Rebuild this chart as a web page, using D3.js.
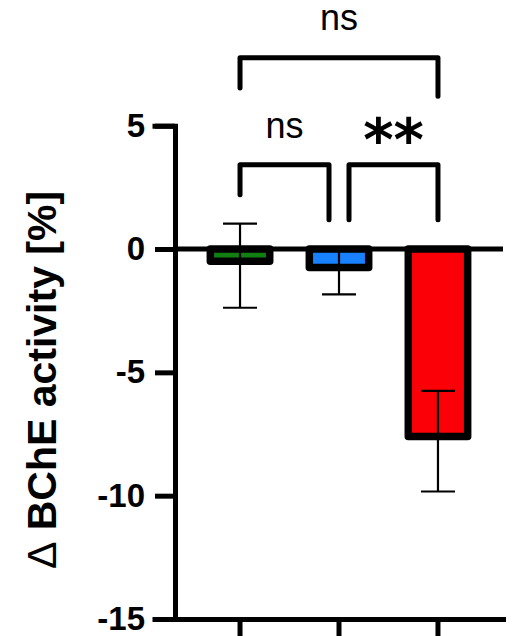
<!DOCTYPE html>
<html>
<head>
<meta charset="utf-8">
<script src="https://cdn.jsdelivr.net/npm/d3@7"></script>
<style>
  body { margin: 0; background: #fff; }
  svg { display: block; }
</style>
</head>
<body>
<div id="chart"></div>
<script>
// group data
var groups = ["A", "B", "C"];
var means = [-0.5, -0.75, -7.6];
var errHigh = [1.03, 0, -5.75];
var errLow = [-2.38, -1.84, -9.83];
var barColors = ["#127f12", "#1781ff", "#fb0007"];

// y axis ticks
var yTicks = [5, 0, -5, -10, -15];

// significance comparisons
var compFrom = [0, 0, 1];
var compTo = [2, 1, 2];
var compLabel = ["ns", "ns", "**"];

var width = 513, height = 636;
var font = "'Liberation Sans', Arial, sans-serif";

var svg = d3.select("#chart").append("svg")
    .attr("width", width)
    .attr("height", height);

// set the ranges
var x = d3.scaleBand()
    .domain(groups)
    .range([175, 503])
    .paddingInner(0.4)
    .paddingOuter(0.357);

var y = d3.scaleLinear()
    .domain([-15, 5])
    .range([619, 125.7]);

var cx = function (i) { return x(groups[i]) + x.bandwidth() / 2; };

// bars
svg.selectAll(".bar")
    .data(means)
    .enter().append("rect")
    .attr("class", "bar")
    .attr("x", function (d, i) { return x(groups[i]); })
    .attr("width", x.bandwidth())
    .attr("y", y(0))
    .attr("height", function (d) { return y(d) - y(0); })
    .style("fill", function (d, i) { return barColors[i]; })
    .style("stroke", "#000")
    .style("stroke-width", 7.5)
    .style("stroke-linejoin", "round");

// error bars
var eb = svg.selectAll(".err")
    .data(means)
    .enter().append("g")
    .attr("class", "err")
    .style("stroke", "#000")
    .style("stroke-width", 2.2);

eb.append("line")
    .attr("x1", function (d, i) { return cx(i); })
    .attr("x2", function (d, i) { return cx(i); })
    .attr("y1", function (d, i) { return y(errHigh[i]); })
    .attr("y2", function (d, i) { return y(errLow[i]); });

eb.append("line")
    .attr("x1", function (d, i) { return cx(i) - 17; })
    .attr("x2", function (d, i) { return cx(i) + 17; })
    .attr("y1", function (d, i) { return y(errHigh[i]); })
    .attr("y2", function (d, i) { return y(errHigh[i]); });

eb.append("line")
    .attr("x1", function (d, i) { return cx(i) - 17; })
    .attr("x2", function (d, i) { return cx(i) + 17; })
    .attr("y1", function (d, i) { return y(errLow[i]); })
    .attr("y2", function (d, i) { return y(errLow[i]); });

// zero line
svg.append("line")
    .attr("x1", 175)
    .attr("x2", 503)
    .attr("y1", y(0))
    .attr("y2", y(0))
    .style("stroke", "#000")
    .style("stroke-width", 5);

// Y axis
var yAxis = svg.append("g")
    .attr("transform", "translate(175,0)")
    .call(d3.axisLeft(y).tickValues(yTicks).tickSize(20).tickSizeOuter(20).tickPadding(10)
        .tickFormat(function (d) { return String(d); }));

// X axis
var xAxis = svg.append("g")
    .attr("transform", "translate(0," + y(-15) + ")")
    .call(d3.axisBottom(x).tickSize(20).tickSizeOuter(0).tickFormat(""));

[yAxis, xAxis].forEach(function (a) {
    a.selectAll("path, line").style("stroke", "#000").style("stroke-width", 5);
    a.select(".domain").style("stroke-linecap", "square");
});

yAxis.selectAll("text")
    .style("font-family", font)
    .style("font-weight", "bold")
    .style("font-size", "33px")
    .style("fill", "#000");

// y label
var ylab = svg.append("text")
    .attr("transform", "translate(56,380) rotate(-90)")
    .attr("text-anchor", "middle")
    .style("font-family", font)
    .style("font-weight", "bold")
    .style("font-size", "41px");
ylab.append("tspan").style("font-weight", "normal").text("\u0394");
ylab.append("tspan").text(" BChE activity [%]");

// significance brackets (heights in data units)
var brY = [7.75, 3.42, 3.42];
var legL = [6.53, 2.2, 1.19];
var legR = [6.19, 1.19, 1.19];
var offL = [0, 0, 10];
var offR = [0, -10, 0];
var labY = [30, 137.7, 160];

compLabel.forEach(function (lab, k) {
    var x1 = cx(compFrom[k]) + offL[k];
    var x2 = cx(compTo[k]) + offR[k];
    svg.append("path")
        .attr("d", "M" + x1 + "," + y(legL[k]) + "V" + y(brY[k]) + "H" + x2 + "V" + y(legR[k]))
        .style("fill", "none")
        .style("stroke", "#000")
        .style("stroke-width", 5)
        .style("stroke-linecap", "round")
        .style("stroke-linejoin", "round");
    var t = svg.append("text")
        .attr("x", (x1 + x2) / 2)
        .attr("y", labY[k])
        .attr("text-anchor", "middle")
        .style("font-family", font)
        .text(lab);
    if (lab === "**") {
        t.style("font-family", "'DejaVu Sans', sans-serif")
            .style("font-weight", "bold")
            .style("font-size", "58px");
    } else {
        t.style("font-size", "36px");
    }
});
</script>
</body>
</html>
